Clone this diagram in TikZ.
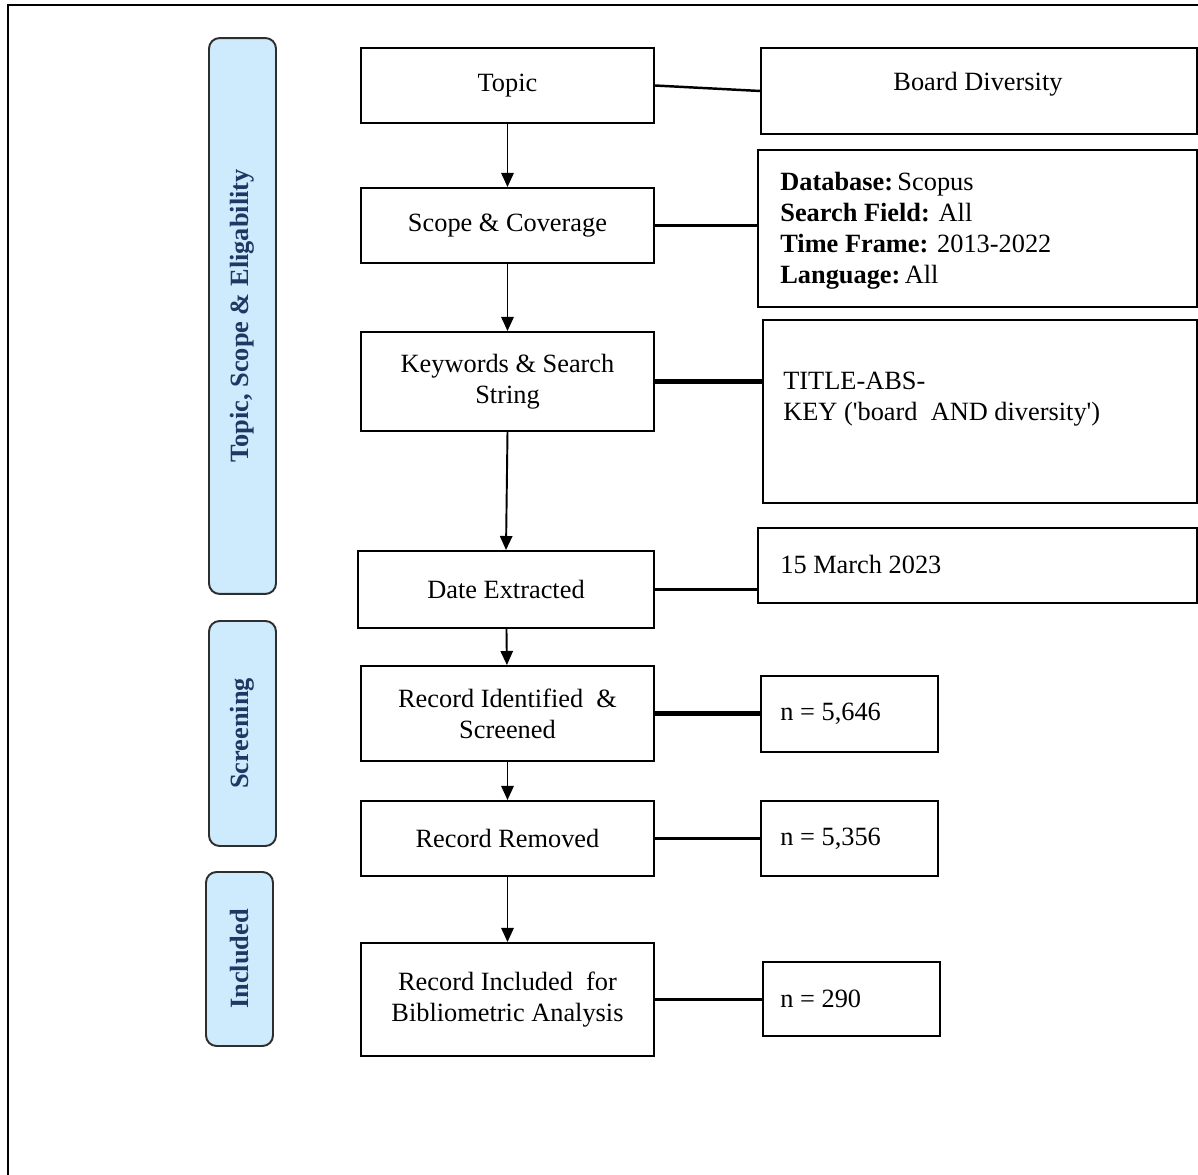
\documentclass[tikz,border=0pt]{standalone}
\usepackage{fontspec}
\setmainfont{Liberation Serif}
\usetikzlibrary{arrows.meta}
\definecolor{barfill}{HTML}{CDEBFC}
\definecolor{barline}{HTML}{2E2E2E}
\definecolor{bartext}{HTML}{1F3763}
\newcommand{\sq}{\textquotesingle}
\tikzset{
  txt/.style={font=\fontsize{15pt}{17.6pt}\selectfont},
  stepbox/.style={draw=black, line width=1.1pt, inner sep=2pt, align=center, txt},
  infobox/.style={draw=black, line width=1.1pt, inner sep=0pt},
  infotext/.style={anchor=west, align=left, inner sep=0pt, txt},
  phase/.style={draw=barline, line width=1.1pt, fill=barfill, rounded corners=6pt,
    minimum width=1.34cm},
  phasetext/.style={rotate=90, text=bartext, font=\fontsize{15pt}{17pt}\selectfont\bfseries},
  flow/.style={line width=1.1pt, -{Triangle[length=8pt,width=7pt]}},
  link/.style={line width=1.4pt},
  thicklink/.style={line width=2.4pt}
}
\begin{document}
\begin{tikzpicture}[x=0.02cm, y=-0.02cm]
\useasboundingbox (0,0) rectangle (1198,1175);
\clip (0,0) rectangle (1198,1175);
\fill[white] (0,0) rectangle (1198,1175);

% outer frame
\draw[line width=1.6pt] (8,1190) -- (8,5) -- (1210,5);

% phase bars
\node[phase, minimum height=11.12cm] (pb1) at (242.5,316) {};
\node[phasetext] (pt1) at (pb1.center) {Topic, Scope \& Eligability};
\node[phase, minimum height=4.5cm] (pb2) at (242.5,733.5) {};
\node[phasetext] (pt2) at (pb2.center) {Screening};
\node[phase, minimum height=3.48cm] (pb3) at (239.5,959) {};
\node[phasetext] (pt3) at (pb3.center) {Included};

% main steps
\node[stepbox, minimum width=5.86cm, minimum height=1.5cm] (topic) at (507.5,85.5) {Topic};
\node[stepbox, minimum width=5.86cm, minimum height=1.5cm] (scope) at (507.5,225.5) {Scope \& Coverage};
\node[stepbox, minimum width=5.86cm, minimum height=1.98cm] (kw) at (507.5,381.5) {Keywords \& Search\\String};
\node[stepbox, minimum width=5.92cm, minimum height=1.54cm] (date) at (506,589.5) {Date Extracted};
\node[stepbox, minimum width=5.86cm, minimum height=1.9cm] (rid) at (507.5,713.5) {Record Identified \ \&\\Screened};
\node[stepbox, minimum width=5.86cm, minimum height=1.5cm] (rrm) at (507.5,838.5) {Record Removed};
\node[stepbox, minimum width=5.86cm, minimum height=2.26cm] (rinc) at (507.5,999.5) {Record Included \ for\\Bibliometric Analysis};

% detail boxes
\node[infobox, minimum width=8.72cm, minimum height=1.72cm] (bd) at (979,91) {};
\node[txt, inner sep=0pt] (bdt) at (978,84) {Board Diversity};
\node[infobox, minimum width=8.78cm, minimum height=3.14cm] (db) at (977.5,228.5) {};
\node[infotext] (dbt) at (780,231) {\textbf{Database:}\,Scopus\\\textbf{Search Field:} All\\\textbf{Time Frame:} 2013-2022\\\textbf{Language:}\,All};
\node[infobox, minimum width=8.68cm, minimum height=3.66cm] (title) at (980,411.5) {};
\node[infotext] (titlet) at (783,399) {TITLE-ABS-\\KEY (\sq board \ AND diversity\sq)};
\node[infobox, minimum width=8.78cm, minimum height=1.5cm] (mar) at (977.5,565.5) {};
\node[infotext] (mart) at (780,564) {15 March 2023};
\node[infobox, minimum width=3.54cm, minimum height=1.52cm] (n1) at (849.5,714) {};
\node[infotext] (n1t) at (780,714) {n = 5,646};
\node[infobox, minimum width=3.54cm, minimum height=1.5cm] (n2) at (849.5,838.5) {};
\node[infotext] (n2t) at (780,839) {n = 5,356};
\node[infobox, minimum width=3.54cm, minimum height=1.48cm] (n3) at (851.5,999) {};
\node[infotext] (n3t) at (780,999) {n = 290};

% flow arrows
\draw[flow] (topic) -- (scope);
\draw[flow] (scope) -- (kw);
\draw[flow] (kw.south) -- (date.north);
\draw[flow] (date) -- (rid);
\draw[flow] (rid) -- (rrm);
\draw[flow] (rrm) -- (rinc);

% side links
\draw[link] (topic.east) -- (bd.west);
\draw[link] (scope.east) -- (scope.east -| db.west);
\draw[thicklink] (kw.east) -- (kw.east -| title.west);
\draw[link] (date.east) -- (date.east -| mar.west);
\draw[thicklink] (rid.east) -- (rid.east -| n1.west);
\draw[link] (rrm.east) -- (rrm.east -| n2.west);
\draw[link] (rinc.east) -- (rinc.east -| n3.west);
\end{tikzpicture}
\end{document}
